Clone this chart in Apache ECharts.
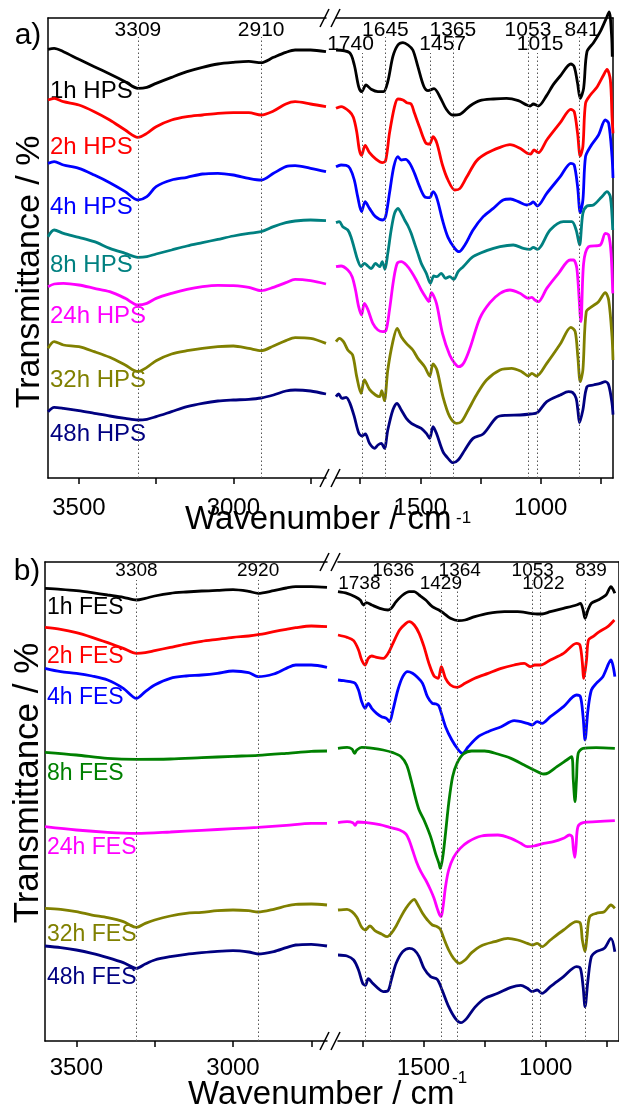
<!DOCTYPE html>
<html>
<head>
<meta charset="utf-8">
<script src="https://cdn.jsdelivr.net/npm/echarts@6/dist/echarts.min.js"></script>
<style>
  html, body { margin: 0; padding: 0; background: #ffffff; }
  #chart { width: 619px; height: 1106px; }
</style>
</head>
<body>
<div id="chart"></div>
<script>
// FTIR spectra, offset transmittance (arbitrary units), broken wavenumber axis.
// Panel a: HPS samples, panel b: FES samples.

const hpsNames = ['1h HPS', '2h HPS', '4h HPS', '8h HPS', '24h HPS', '32h HPS', '48h HPS'];
const fesNames = ['1h FES', '2h FES', '4h FES', '8h FES', '24h FES', '32h FES', '48h FES'];

// Marked band positions (cm-1)
const peaksA = [3309, 2910, 1740, 1645, 1457, 1365, 1053, 1015, 841];
const peaksB = [3308, 2920, 1738, 1636, 1429, 1364, 1053, 1022, 839];

// Axis tick values
const ticksHigh = [2750, 3000, 3250, 3500];
const ticksLow = [750, 1000, 1250, 1500, 1750];
const tickLabelsHigh = [3000, 3500];
const tickLabelsLow = [1000, 1500];

// ---- Panel a, 3600-2700 cm-1 ----
const wnHighA = [3600, 3580, 3550, 3500, 3450, 3400, 3350, 3309, 3280, 3250, 3200, 3150, 3100, 3050, 3000, 2950, 2910, 2870, 2830, 2800, 2750, 2700];
const hps1hHigh = [1286, 1289, 1279, 1256, 1234, 1212, 1189, 1169, 1172, 1184, 1202, 1219, 1232, 1242, 1247, 1250, 1246, 1262, 1277, 1284, 1284, 1279];
const hps2hHigh = [1134, 1139, 1129, 1119, 1099, 1074, 1044, 1022, 1034, 1054, 1074, 1084, 1089, 1094, 1096, 1096, 1089, 1101, 1122, 1129, 1122, 1114];
const hps4hHigh = [944, 949, 939, 929, 909, 886, 859, 834, 844, 874, 894, 902, 912, 914, 909, 899, 894, 914, 934, 937, 929, 919];
const hps8hHigh = [724, 744, 734, 722, 709, 689, 674, 662, 664, 672, 684, 696, 706, 716, 726, 734, 739, 754, 766, 771, 774, 772];
const hps24hHigh = [574, 582, 584, 579, 569, 559, 539, 519, 524, 539, 554, 566, 574, 578, 577, 572, 562, 572, 586, 596, 592, 582];
const hps32hHigh = [389, 409, 399, 394, 379, 362, 339, 319, 332, 352, 372, 382, 389, 394, 396, 389, 382, 396, 412, 421, 419, 404];
const hps48hHigh = [199, 212, 209, 202, 194, 186, 179, 174, 176, 184, 199, 214, 224, 231, 234, 236, 240, 249, 261, 264, 261, 252];

// ---- Panel a, 1850-700 cm-1 ----
const hps1hLow = [[1850,1284],[1794,1276],[1774,1239],[1756,1174],[1744,1159],[1725,1179],[1704,1166],[1676,1159],[1653,1159],[1635,1189],[1614,1264],[1593,1299],[1572,1306],[1551,1299],[1531,1284],[1510,1234],[1486,1176],[1468,1162],[1443,1168],[1419,1144],[1392,1106],[1367,1089],[1336,1091],[1294,1116],[1253,1132],[1197,1137],[1142,1139],[1093,1132],[1058,1119],[1044,1116],[1031,1122],[1010,1116],[975,1148],[950,1178],[919,1206],[875,1242],[861,1234],[847,1184],[836,1139],[822,1169],[808,1279],[781,1306],[753,1339],[728,1379],[716,1398],[706,1330],[703,1264]];
const hps2hLow = [[1850,1109],[1829,1114],[1794,1099],[1778,1082],[1764,1039],[1753,984],[1744,968],[1729,998],[1711,976],[1683,956],[1658,946],[1644,952],[1628,1034],[1607,1114],[1593,1137],[1572,1134],[1556,1126],[1538,1122],[1524,1094],[1503,1052],[1478,1006],[1461,1002],[1447,1024],[1431,1004],[1408,939],[1385,894],[1357,864],[1336,868],[1308,902],[1267,951],[1225,974],[1169,992],[1128,1000],[1086,989],[1056,974],[1042,972],[1028,984],[1010,976],[975,1014],[919,1066],[875,1106],[861,1099],[847,1034],[836,966],[825,994],[814,1124],[794,1149],[767,1172],[739,1209],[725,1226],[711,1194],[704,1084],[700,1034]];
const hps4hLow = [[1850,934],[1829,939],[1808,938],[1792,929],[1774,894],[1760,844],[1744,799],[1729,829],[1711,809],[1686,784],[1656,774],[1644,784],[1628,854],[1610,934],[1593,964],[1579,954],[1561,956],[1544,944],[1524,914],[1503,874],[1482,844],[1461,841],[1447,859],[1431,839],[1408,774],[1385,722],[1357,689],[1339,679],[1315,699],[1281,744],[1239,784],[1197,809],[1156,834],[1125,837],[1093,829],[1058,819],[1044,822],[1031,828],[1014,816],[975,854],[919,904],[875,944],[861,939],[847,874],[836,796],[825,834],[814,964],[794,994],[760,1029],[732,1074],[718,1064],[704,964],[700,900]];
const hps8hLow = [[1850,766],[1836,769],[1822,754],[1801,744],[1788,724],[1774,689],[1760,654],[1746,634],[1732,644],[1718,636],[1704,628],[1686,644],[1669,634],[1658,649],[1647,626],[1635,674],[1621,744],[1607,794],[1593,809],[1579,794],[1565,774],[1551,756],[1538,734],[1524,704],[1510,674],[1496,644],[1475,614],[1458,584],[1444,606],[1431,604],[1413,614],[1395,599],[1378,604],[1361,596],[1343,619],[1322,634],[1281,664],[1225,682],[1169,694],[1114,699],[1072,689],[1044,686],[1031,692],[1014,686],[961,744],[906,769],[871,769],[853,744],[839,699],[825,794],[808,816],[781,819],[746,844],[725,859],[711,844],[701,744]];
const hps24hLow = [[1850,634],[1829,636],[1801,624],[1783,604],[1769,564],[1756,514],[1744,489],[1732,524],[1718,506],[1697,464],[1676,444],[1656,439],[1642,444],[1628,504],[1611,594],[1596,644],[1579,649],[1558,639],[1537,619],[1517,594],[1496,564],[1475,539],[1465,529],[1454,556],[1433,524],[1408,434],[1378,369],[1357,344],[1340,334],[1319,346],[1294,389],[1253,479],[1211,526],[1169,554],[1128,564],[1086,554],[1051,539],[1037,542],[1024,534],[1010,529],[975,569],[926,614],[878,654],[864,654],[850,629],[833,469],[822,644],[801,694],[753,699],[732,734],[718,729],[708,674],[701,554]];
const hps32hLow = [[1850,409],[1836,419],[1819,409],[1801,384],[1781,369],[1764,304],[1746,254],[1732,294],[1711,266],[1686,249],[1669,244],[1660,262],[1649,232],[1635,324],[1614,409],[1596,449],[1579,424],[1558,404],[1531,384],[1510,359],[1482,334],[1461,306],[1447,342],[1431,324],[1406,244],[1378,184],[1350,164],[1329,169],[1301,204],[1267,249],[1225,294],[1169,324],[1121,329],[1079,319],[1051,306],[1037,314],[1017,306],[975,344],[919,402],[875,452],[857,439],[846,364],[836,289],[825,324],[811,499],[788,514],[760,529],[732,556],[718,534],[704,424],[700,354]];
const hps48hLow = [[1850,244],[1839,252],[1825,239],[1808,242],[1792,224],[1774,184],[1756,136],[1742,126],[1728,132],[1711,104],[1690,89],[1676,99],[1662,104],[1649,89],[1635,144],[1614,204],[1597,224],[1579,204],[1558,179],[1537,164],[1517,156],[1496,149],[1475,134],[1461,119],[1447,154],[1433,134],[1406,79],[1385,59],[1364,46],[1343,54],[1315,84],[1281,119],[1239,132],[1183,182],[1142,188],[1086,189],[1044,192],[1014,196],[975,229],[919,249],[885,259],[867,256],[853,239],[846,204],[839,166],[825,204],[808,274],[781,279],[753,284],[732,289],[718,279],[704,224],[700,190]];

// ---- Panel b, 3600-2700 cm-1 ----
const wnHighB = [3600, 3550, 3500, 3450, 3400, 3350, 3308, 3280, 3250, 3200, 3150, 3100, 3050, 3000, 2950, 2920, 2870, 2830, 2800, 2750, 2700];
const fes1hHigh = [1358, 1355, 1351, 1345, 1338, 1331, 1323, 1328, 1335, 1343, 1347, 1350, 1352, 1354, 1349, 1343, 1351, 1359, 1363, 1363, 1361];
const fes2hHigh = [1241, 1235, 1225, 1211, 1195, 1178, 1163, 1165, 1171, 1181, 1191, 1199, 1205, 1211, 1215, 1219, 1228, 1235, 1240, 1245, 1243];
const fes4hHigh = [1118, 1108, 1103, 1095, 1083, 1058, 1028, 1048, 1068, 1088, 1095, 1098, 1103, 1110, 1105, 1093, 1101, 1118, 1128, 1128, 1121];
const fes8hHigh = [[3600,866],[3500,858],[3400,848],[3308,845],[3200,846],[3100,850],[3000,854],[2920,857],[2830,863],[2750,869],[2700,870]];
const fes24hHigh = [[3600,643],[3500,633],[3400,626],[3308,623],[3200,627],[3100,632],[3000,637],[2920,641],[2830,647],[2750,653],[2700,653]];
const fes32hHigh = [398, 395, 388, 378, 370, 358, 341, 353, 363, 375, 383, 386, 391, 393, 391, 387, 395, 405, 410, 411, 408];
const fes48hHigh = [285, 280, 273, 263, 250, 235, 218, 231, 243, 253, 260, 265, 269, 271, 267, 261, 268, 280, 288, 290, 285];

// ---- Panel b, 1850-700 cm-1 ----
const fes1hLow = [[1850,1348],[1813,1343],[1780,1333],[1759,1323],[1746,1308],[1733,1315],[1712,1308],[1679,1298],[1645,1293],[1632,1298],[1612,1318],[1585,1338],[1558,1348],[1538,1348],[1518,1338],[1491,1323],[1464,1303],[1437,1293],[1417,1283],[1390,1268],[1357,1261],[1330,1263],[1290,1273],[1236,1283],[1169,1288],[1115,1288],[1062,1283],[1035,1281],[1015,1281],[981,1288],[927,1298],[874,1308],[858,1313],[847,1293],[839,1268],[827,1293],[813,1313],[786,1323],[753,1338],[733,1363],[723,1353],[717,1343]];
const fes2hLow = [[1850,1218],[1813,1211],[1786,1201],[1766,1173],[1753,1143],[1739,1128],[1726,1148],[1712,1155],[1692,1151],[1665,1148],[1645,1163],[1625,1193],[1598,1233],[1572,1253],[1558,1258],[1538,1248],[1518,1223],[1498,1183],[1478,1133],[1457,1095],[1440,1088],[1427,1123],[1410,1088],[1390,1068],[1363,1061],[1330,1073],[1290,1088],[1236,1103],[1182,1118],[1129,1128],[1088,1133],[1062,1123],[1045,1128],[1021,1128],[981,1143],[927,1163],[874,1193],[860,1188],[851,1143],[844,1088],[833,1143],[825,1203],[807,1213],[780,1228],[746,1243],[719,1263]];
const fes4hLow = [[1850,1083],[1826,1081],[1800,1078],[1780,1073],[1766,1053],[1753,1018],[1739,998],[1726,1013],[1712,998],[1692,983],[1672,973],[1652,968],[1639,958],[1625,993],[1605,1053],[1585,1093],[1565,1108],[1545,1103],[1525,1091],[1504,1073],[1484,1033],[1464,1013],[1448,1011],[1437,1005],[1410,943],[1384,903],[1357,873],[1341,863],[1317,883],[1276,913],[1236,928],[1182,943],[1129,961],[1075,953],[1055,948],[1035,958],[1015,953],[981,973],[927,1003],[874,1038],[858,1033],[847,973],[839,903],[827,993],[813,1053],[793,1073],[766,1093],[733,1143],[717,1093]];
const fes8hLow = [[1850,878],[1813,881],[1793,876],[1782,863],[1773,873],[1753,881],[1706,878],[1665,873],[1625,865],[1592,853],[1569,828],[1551,783],[1534,733],[1518,693],[1498,663],[1471,613],[1451,563],[1437,533],[1431,518],[1421,553],[1410,623],[1397,713],[1381,793],[1363,833],[1337,861],[1303,870],[1250,870],[1196,861],[1142,848],[1088,828],[1048,813],[1008,801],[988,805],[954,823],[914,843],[894,853],[887,783],[880,718],[874,783],[867,863],[847,878],[793,880],[717,878]];
const fes24hLow = [[1850,655],[1813,658],[1789,655],[1780,647],[1770,657],[1733,655],[1679,649],[1639,641],[1598,633],[1572,621],[1558,601],[1545,573],[1529,538],[1511,508],[1491,483],[1471,453],[1457,428],[1444,398],[1434,378],[1428,373],[1420,403],[1410,463],[1397,513],[1377,551],[1350,578],[1317,598],[1263,615],[1196,618],[1142,608],[1102,593],[1075,583],[1048,585],[1008,593],[968,598],[927,608],[903,618],[892,613],[887,578],[881,551],[876,583],[868,643],[847,655],[793,658],[717,661]];
const fes32hLow = [[1850,393],[1813,395],[1793,388],[1773,371],[1753,341],[1739,333],[1719,345],[1699,331],[1672,321],[1649,313],[1632,323],[1612,345],[1592,373],[1572,398],[1551,418],[1538,425],[1525,411],[1504,383],[1484,363],[1464,348],[1444,343],[1431,335],[1417,308],[1397,273],[1377,248],[1354,233],[1330,243],[1303,265],[1263,286],[1209,298],[1155,308],[1115,303],[1075,293],[1055,288],[1035,293],[1015,283],[981,303],[927,333],[874,358],[858,353],[850,303],[839,268],[831,313],[820,373],[793,383],[760,388],[733,408],[717,398]];
const fes48hLow = [[1850,258],[1813,255],[1786,243],[1766,213],[1749,173],[1738,167],[1726,187],[1708,173],[1686,158],[1665,148],[1645,151],[1632,183],[1612,233],[1585,268],[1558,278],[1538,273],[1518,253],[1498,218],[1471,193],[1444,185],[1424,153],[1397,103],[1370,68],[1347,55],[1323,68],[1290,101],[1249,128],[1196,143],[1142,161],[1102,167],[1075,158],[1055,148],[1035,153],[1015,143],[981,163],[927,193],[874,223],[858,218],[847,163],[839,103],[827,183],[813,253],[793,268],[760,278],[733,308],[717,268]];

// ---------------- drawing ----------------
const FONT = '"Liberation Sans", Arial, Helvetica, sans-serif';
const colorsA = ['#000000', '#ff0000', '#0000ff', '#008080', '#ff00ff', '#808000', '#000080'];
const colorsB = ['#000000', '#ff0000', '#0000ff', '#008000', '#ff00ff', '#808000', '#000080'];

function zip(xs, ys) { return xs.map((x, i) => [x, ys[i]]); }

const panelA = {
  names: hpsNames, colors: colorsA,
  high: [zip(wnHighA, hps1hHigh), zip(wnHighA, hps2hHigh), zip(wnHighA, hps4hHigh), zip(wnHighA, hps8hHigh),
         zip(wnHighA, hps24hHigh), zip(wnHighA, hps32hHigh), zip(wnHighA, hps48hHigh)],
  low: [hps1hLow, hps2hLow, hps4hLow, hps8hLow, hps24hLow, hps32hLow, hps48hLow],
  peaks: peaksA
};
const panelB = {
  names: fesNames, colors: colorsB,
  high: [zip(wnHighB, fes1hHigh), zip(wnHighB, fes2hHigh), zip(wnHighB, fes4hHigh), fes8hHigh,
         fes24hHigh, zip(wnHighB, fes32hHigh), zip(wnHighB, fes48hHigh)],
  low: [fes1hLow, fes2hLow, fes4hLow, fes8hLow, fes24hLow, fes32hLow, fes48hLow],
  peaks: peaksB
};

// layout of the four plotting areas (two per panel, split at the axis break)
const grids = [
  { left: 48, top: 18, width: 278, height: 460 },
  { left: 336, top: 18, width: 277, height: 460 },
  { left: 45, top: 562, width: 282, height: 479 },
  { left: 338, top: 562, width: 281, height: 479 }
];
const yMax = [1380, 1380, 1437, 1437];
const isHigh = [true, false, true, false];
const labelMargin = [18, 18, 15, 15];

// styling of the band markers: label row (0 upper, 1 lower) and horizontal nudge
const markerStyle = {
  a: { rowTop: [1323, 1275], rowLabel: [1344, 1300], fontSize: 21,
       lower: [1740, 1457, 1015], nudge: { 1740: -12, 1457: 12, 1015: 3, 841: 3 } },
  b: { rowTop: [1383, 1347], rowLabel: [1410, 1372], fontSize: 19,
       lower: [1738, 1429, 1022], nudge: { 1738: -6, 1636: 3, 1364: 3, 1022: 3, 839: 6 } }
};

const xAxes = [];
const yAxes = [];
grids.forEach((g, i) => {
  const high = isHigh[i];
  xAxes.push({
    type: 'value', gridIndex: i, inverse: true,
    min: high ? 2700 : 700, max: high ? 3600 : 1850,
    axisLine: { show: true, onZero: false, lineStyle: { color: '#000', width: 1.5 } },
    axisTick: { show: true, inside: false, length: 6, customValues: high ? ticksHigh : ticksLow,
                lineStyle: { color: '#000', width: 1.5 } },
    axisLabel: { show: true, customValues: high ? tickLabelsHigh : tickLabelsLow, margin: labelMargin[i],
                 color: '#000', fontSize: 24, fontFamily: FONT, formatter: v => String(v) },
    splitLine: { show: false }
  });
});
grids.forEach((g, i) => {
  const high = isHigh[i];
  xAxes.push({
    type: 'value', gridIndex: i, position: 'top', inverse: true,
    min: high ? 2700 : 700, max: high ? 3600 : 1850,
    axisLine: { show: true, onZero: false, lineStyle: { color: '#000', width: 1.5 } },
    axisTick: { show: false }, axisLabel: { show: false }, splitLine: { show: false }
  });
  yAxes.push({
    type: 'value', gridIndex: i, min: 0, max: yMax[i],
    position: isHigh[i] ? 'left' : 'right',
    axisLine: { show: true, onZero: false, lineStyle: { color: '#000', width: 1.5 } },
    axisTick: { show: false }, axisLabel: { show: false }, splitLine: { show: false }
  });
});

const series = [];

function addMarkers(gridIdx, peaks, st) {
  const high = isHigh[gridIdx];
  const list = peaks.filter(p => high ? p > 2000 : p < 2000);
  const lines = list.map(p => {
    const row = st.lower.includes(p) ? 1 : 0;
    return [{ coord: [p, 0] }, { coord: [p, st.rowTop[row]] }];
  });
  series.push({
    type: 'line', xAxisIndex: gridIdx, yAxisIndex: gridIdx, data: [], silent: true, z: 1,
    markLine: {
      silent: true, symbol: ['none', 'none'], animation: false,
      label: { show: false },
      lineStyle: { color: '#555', width: 1, type: [1.5, 2.5] },
      data: lines
    }
  });
  series.push({
    type: 'scatter', xAxisIndex: gridIdx, yAxisIndex: gridIdx, symbolSize: 0, silent: true, z: 5,
    itemStyle: { opacity: 1 },
    data: list.map(p => {
      const row = st.lower.includes(p) ? 1 : 0;
      return { name: String(p), value: [p, st.rowLabel[row]],
               label: { offset: [st.nudge[p] || 0, 0] } };
    }),
    label: { show: true, position: 'inside', formatter: '{b}', color: '#000', opacity: 1,
             textBorderWidth: 0, fontSize: st.fontSize, fontFamily: FONT }
  });
}

function addPanel(panel, gHigh, gLow, st) {
  addMarkers(gHigh, panel.peaks, st);
  addMarkers(gLow, panel.peaks, st);
  panel.names.forEach((name, k) => {
    const base = {
      type: 'line', name: name, showSymbol: false, symbol: 'none', smooth: 0.3,
      clip: false, silent: true, z: 3,
      lineStyle: { color: panel.colors[k], width: 2.8 }
    };
    series.push(Object.assign({}, base, { xAxisIndex: gHigh, yAxisIndex: gHigh, data: panel.high[k] }));
    series.push(Object.assign({}, base, { xAxisIndex: gLow, yAxisIndex: gLow, data: panel.low[k] }));
  });
}

addPanel(panelA, 0, 1, markerStyle.a);
addPanel(panelB, 2, 3, markerStyle.b);

// text and axis-break decorations
const graphics = [];
function text(str, x, y, size, color, opts) {
  graphics.push(Object.assign({
    type: 'text', x: x, y: y, silent: true,
    style: Object.assign({ text: str, fill: color || '#000', font: size + 'px ' + FONT,
                           textAlign: 'left', textVerticalAlign: 'middle' }, (opts && opts.style) || {})
  }, opts && opts.rotation !== undefined ? { rotation: opts.rotation } : {}));
}

// series names beside the high-wavenumber traces
const nameRowsA = [91, 147, 207, 265, 316, 380, 434];
const nameRowsB = [608, 657, 698, 774, 848, 935, 978];
hpsNames.forEach((n, k) => text(n, 50, nameRowsA[k], 24, colorsA[k]));
fesNames.forEach((n, k) => text(n, 47, nameRowsB[k], 23, colorsB[k]));

// panel letters
text('a)', 28, 36, 30, '#000', { style: { textAlign: 'center' } });
text('b)', 27, 572, 30, '#000', { style: { textAlign: 'center' } });

// axis titles
text('Transmittance / %', 30, 272, 34, '#000', { rotation: Math.PI / 2, style: { textAlign: 'center' } });
text('Transmittance / %', 28, 783, 35, '#000', { rotation: Math.PI / 2, style: { textAlign: 'center' } });
text('Wavenumber / cm', 185, 520, 33, '#000');
text('-1', 456, 518, 17, '#000');
text('Wavenumber / cm', 188, 1095, 33, '#000');
text('-1', 452, 1078, 17, '#000');

// "//" break marks on the frame lines
function breakMark(yAxisLine) {
  [[320, 329], [331, 340]].forEach(([x0, x1]) => {
    graphics.push({
      type: 'line', silent: true,
      shape: { x1: x0, y1: yAxisLine + 9, x2: x1, y2: yAxisLine - 9 },
      style: { stroke: '#000', lineWidth: 1.5 }
    });
  });
}
breakMark(18);
breakMark(478);
breakMark(562);
breakMark(1041);

const chart = echarts.init(document.getElementById('chart'), null, { renderer: 'canvas' });
chart.setOption({
  animation: false,
  backgroundColor: '#ffffff',
  grid: grids,
  xAxis: xAxes,
  yAxis: yAxes,
  series: series,
  graphic: graphics
});
</script>
</body>
</html>
